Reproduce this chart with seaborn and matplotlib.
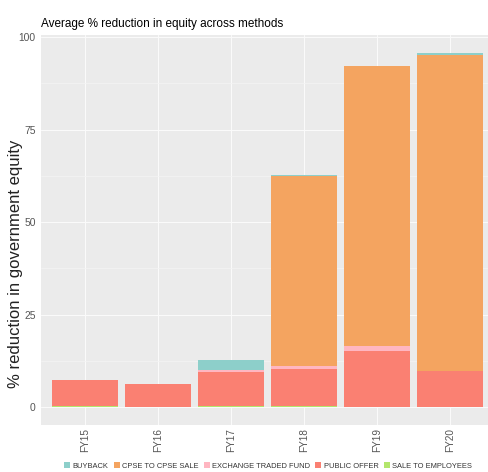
import numpy as np
import pandas as pd
import matplotlib
matplotlib.use('Agg')
import matplotlib.pyplot as plt
from matplotlib.patches import Patch
from matplotlib import font_manager
from matplotlib.ticker import MultipleLocator
import seaborn as sns

#%% data
years = ['FY15', 'FY16', 'FY17', 'FY18', 'FY19', 'FY20']
methods = ['BUYBACK', 'CPSE TO CPSE SALE', 'EXCHANGE TRADED FUND',
           'PUBLIC OFFER', 'SALE TO EMPLOYEES']
buyback = [0.0, 0.0, 2.7, 0.3, 0.0, 0.7]
cpse_sale = [0.0, 0.0, 0.0, 51.3, 75.6, 85.3]
etf = [0.0, 0.0, 0.6, 0.9, 1.3, 0.0]
public_offer = [7.2, 6.2, 9.3, 10.0, 15.3, 9.8]
sale_employees = [0.2, 0.0, 0.2, 0.2, 0.0, 0.0]
colores = ['#8DCFCA', '#F4A460', '#FFB6C1', '#FA8072', '#B3E66C']

df = pd.DataFrame({'year': years,
                   'BUYBACK': buyback,
                   'CPSE TO CPSE SALE': cpse_sale,
                   'EXCHANGE TRADED FUND': etf,
                   'PUBLIC OFFER': public_offer,
                   'SALE TO EMPLOYEES': sale_employees})

# stacked like ggplot: first level on top, last level at the bottom
cum = df[methods[::-1]].cumsum(axis=1)
for m in methods:
    df['cum_' + m] = cum[m]

#%% style
sns.set_style('darkgrid', {'axes.facecolor': '#EBEBEB', 'grid.color': 'white',
                           'axes.edgecolor': '#EBEBEB'})
nombres = {f.name for f in font_manager.fontManager.ttflist}
if 'Liberation Sans Narrow' in nombres:
    narrow, k = 'Liberation Sans Narrow', 1.0
else:
    narrow, k = 'Liberation Sans', 0.82
plt.rcParams['font.family'] = [narrow, 'DejaVu Sans']

fig = plt.figure(figsize=(4.89, 4.72), dpi=100)
ax = fig.add_axes([41.2 / 489, 47 / 472, 452.6 / 489, 390 / 472])

for m, c in zip(methods, colores):
    sns.barplot(data=df, x='year', y='cum_' + m, order=years, color=c,
                width=0.9, saturation=1, linewidth=0, errorbar=None, ax=ax)

ax.set_xlim(-0.6, 5.6)
ax.set_ylim(-4.8, 100.6)
ax.set_yticks([0, 25, 50, 75, 100])
ax.yaxis.set_minor_locator(MultipleLocator(12.5))
ax.grid(which='major', color='#FAFAFA', linewidth=0.8)
ax.grid(which='minor', axis='y', color='#F4F4F4', linewidth=0.5)
ax.set_axisbelow(True)
for s in ax.spines.values():
    s.set_visible(False)

ax.tick_params(axis='both', which='major', length=2.5, width=0.6,
               color='#444444', labelcolor='#555555', pad=1.5)
ax.tick_params(axis='y', labelsize=9 * k)
ax.tick_params(axis='x', labelsize=7.2, labelrotation=90, length=1.5, pad=0.5)
ax.tick_params(which='minor', length=0)

ax.set_xlabel('')
ax.set_ylabel('% reduction in government equity', fontsize=12,
              color='#222222')
ax.yaxis.label.set_va('center')
ax.yaxis.set_label_coords(-26 / 452.6, 0.413)
ax.set_title('Average % reduction in equity across methods', loc='left',
             fontsize=10.3 * k, pad=6, color='black')

handles = [Patch(facecolor=c, edgecolor='none', label=m)
           for m, c in zip(methods, colores)]
fig.legend(handles=handles, loc='center', bbox_to_anchor=(268 / 489, 1 - 466 / 472),
           ncol=5, frameon=False, fontsize=6.6 * k, handlelength=0.8,
           handleheight=0.8, handletextpad=0.3, columnspacing=0.7,
           borderpad=0, labelcolor='#333333')

fig.savefig('out.png', dpi=100)
